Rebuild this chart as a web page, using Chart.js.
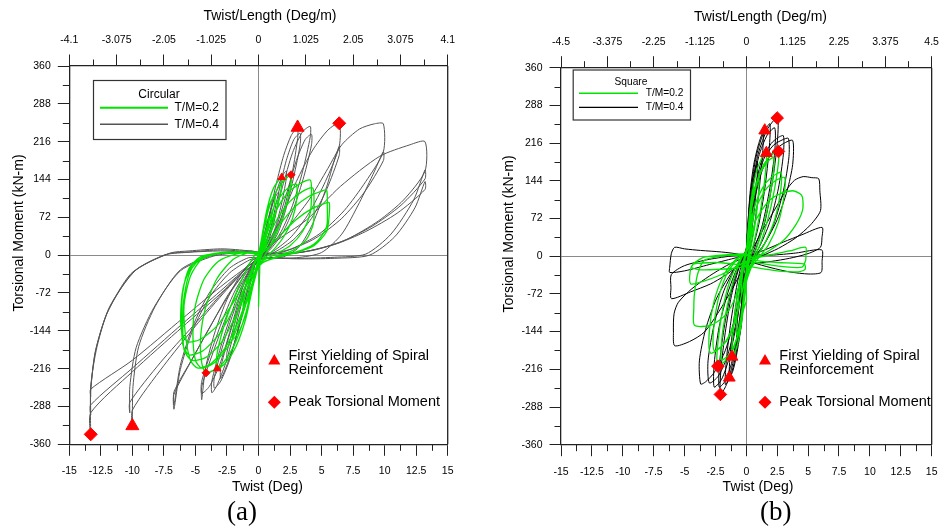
<!DOCTYPE html>
<html>
<head>
<meta charset="utf-8">
<script src="https://cdn.jsdelivr.net/npm/chart.js@4/dist/chart.umd.min.js"></script>
<style>
  body { margin: 0; background: #fff; width: 947px; height: 529px; position: relative; overflow: hidden; }
  .panel { position: absolute; top: 0; height: 500px; }
  .cap { position: absolute; top: 498px; font: 27px "Liberation Serif", "Times New Roman", serif; line-height: 1; color: #000; }
</style>
</head>
<body>
<div class="panel" style="left:0;width:470px"><canvas id="chartA"></canvas></div>
<div class="panel" style="left:480px;width:467px"><canvas id="chartB"></canvas></div>
<div class="cap" style="left:227px">(a)</div>
<div class="cap" style="left:760px">(b)</div>
<script>
/* tick labels */
const twistTicks = [-15, -12.5, -10, -7.5, -5, -2.5, 0, 2.5, 5, 7.5, 10, 12.5, 15];
const momentTicks = [-360, -288, -216, -144, -72, 0, 72, 144, 216, 288, 360];
const perLengthTicksA = [-4.1, -3.075, -2.05, -1.025, 0, 1.025, 2.05, 3.075, 4.1];
const perLengthTicksB = [-4.5, -3.375, -2.25, -1.125, 0, 1.125, 2.25, 3.375, 4.5];

/* (a) circular, T/M=0.4 : [twist, moment] */
const circ04 = [
  [0,0],[0.1,8],[0.4,35],[0.8,72],[1.15,100],[1.45,116],[1.6,120],[1.6,108],[1.3,70],[0.9,35],[0.5,12],[0.1,2],
  [-0.2,-12],[-0.6,-50],[-1.1,-100],[-1.7,-150],[-2.2,-188],[-2.5,-200],[-2.5,-185],[-2,-140],[-1.4,-90],[-0.8,-45],[-0.2,-12],[0.1,-5],
  [0.3,15],[0.7,55],[1.2,105],[1.7,140],[2,155],[2.2,160],[2.2,145],[1.8,95],[1.3,50],[0.7,15],[0.1,0],
  [-0.3,-15],[-0.8,-60],[-1.4,-120],[-2,-175],[-2.6,-215],[-3,-235],[-3,-215],[-2.4,-160],[-1.7,-105],[-1,-55],[-0.3,-18],[0.1,-8],
  [0.3,20],[0.8,70],[1.4,135],[2,190],[2.6,228],[3.1,243],[3.1,222],[2.7,160],[2.1,95],[1.4,45],[0.6,10],[0.1,0],
  [-0.3,-18],[-0.9,-70],[-1.6,-140],[-2.3,-200],[-3,-240],[-3.5,-253],[-3.5,-232],[-2.8,-170],[-2,-110],[-1.2,-58],[-0.4,-20],[0.1,-10],
  [0.4,10],[1,55],[1.6,120],[2.2,180],[2.8,220],[3.3,232],[3.3,210],[2.8,150],[2.2,90],[1.5,40],[0.6,8],[0.1,-2],
  [-0.4,-15],[-1,-60],[-1.8,-135],[-2.6,-205],[-3.3,-248],[-3.7,-262],[-3.7,-240],[-3,-175],[-2.2,-115],[-1.4,-62],[-0.5,-22],[0.1,-10],
  [0.4,12],[1.1,60],[1.9,130],[2.7,195],[3.5,235],[4.1,245],[4.1,225],[3.5,160],[2.7,95],[1.8,45],[0.8,10],[0.1,-3],
  [-0.5,-15],[-1.3,-65],[-2.2,-140],[-3.1,-210],[-3.9,-250],[-4.5,-263],[-4.5,-240],[-3.7,-180],[-2.8,-120],[-1.8,-65],[-0.7,-25],[0.1,-10],
  [0.5,5],[1.3,45],[2.2,115],[3,180],[3.7,220],[4.2,230],[4.2,210],[3.6,150],[2.8,90],[1.9,42],[0.9,10],[0.1,-4],
  [-0.5,-10],[-1.5,-40],[-2.6,-90],[-3.5,-150],[-4.2,-215],[-4.5,-275],[-4.5,-250],[-3.6,-185],[-2.6,-120],[-1.6,-65],[-0.6,-25],[0.1,-10],
  [0.5,15],[1.6,60],[3,140],[4.3,200],[5.5,238],[6.4,251],[6.4,207],[5.3,140],[4,80],[2.6,35],[1.2,8],[0.1,-5],
  [-0.7,-9],[-2.3,-34],[-3.85,-79],[-5.2,-142],[-6.2,-218],[-6.7,-293],[-6.7,-265],[-5.3,-200],[-3.8,-135],[-2.4,-75],[-1,-30],[0.1,-8],
  [0.8,-5],[2,-3],[3.2,15],[4.3,60],[5.4,130],[6,180],[6.4,207],[6.4,190],[5.4,125],[4.2,70],[2.8,30],[1.3,6],[0.1,-5],
  [-0.8,-5],[-2.3,-25],[-3.9,-72],[-5.2,-135],[-6.2,-210],[-6.7,-285],[-6.7,-260],[-5.2,-195],[-3.7,-130],[-2.2,-70],[-0.9,-28],[0.1,-8],
  [0.6,12],[2.2,50],[4,105],[5.5,165],[6.6,210],[8,240],[9.2,250],[9.9,250],[9.9,197],[8.5,140],[6.8,85],[4.8,40],[2.6,12],[0.6,2],
  [-0.5,8],[-1.5,7],[-3.6,0],[-6.2,-28],[-8.2,-98],[-9.5,-174],[-9.95,-250],[-10,-325],[-10,-295],[-7.5,-210],[-5,-135],[-2.5,-65],[-0.5,-15],[0.1,-8],
  [1,-6],[3,-5],[5,5],[6.6,40],[8,100],[9.2,160],[9.9,197],[9.9,180],[8.4,120],[6.6,70],[4.5,32],[2.2,8],[0.3,0],
  [-0.5,6],[-1.5,5],[-3.6,-2],[-6.2,-30],[-8.3,-100],[-9.7,-176],[-10.2,-250],[-10.2,-300],[-10.2,-280],[-7.8,-205],[-5.2,-135],[-2.6,-65],[-0.5,-15],[0.1,-8],
  [1.2,23],[3.8,67],[6.5,131],[9.6,188],[12,210],[13.2,216],[13.2,160],[11.5,105],[9.5,65],[7,30],[4.5,10],[2,2],[0.3,5],
  [-1.5,10],[-3,12],[-5.5,8],[-7,4],[-9.7,-28],[-11.8,-98],[-12.8,-174],[-13.3,-250],[-13.3,-341],[-13.3,-300],[-10,-222],[-6,-136],[-3,-73],[-0.5,-15],[0.1,-8],
  [0.6,-5],[3,-6],[6,-4],[8.5,2],[10.5,40],[12.3,105],[13.2,162],[13.2,145],[11.3,95],[9,55],[6.5,25],[3.5,6],[0.5,4],
  [-1.5,8],[-3,10],[-5.5,6],[-7.2,2],[-9.9,-32],[-11.9,-105],[-12.9,-180],[-13.3,-255],[-13.3,-304],[-13.3,-285],[-10,-215],[-6,-130],[-3,-68],[-0.5,-15],[0.1,-8],
  [0.6,-5],[3,-7],[6,-6],[8.8,0],[10.8,35],[12.4,90],[13.2,140],[13.2,125],[11,80],[8.5,45],[6,20],[3,4],[0.5,3],
  [-1.5,6],[-3,8],[-5.8,5],[-7.5,0],[-10.1,-35],[-12,-110],[-12.95,-185],[-13.3,-255],[-13.3,-269],[-13.3,-255],[-10,-200],[-6,-120],[-3,-60],[-0.5,-15],[0,-8]
];

/* (a) circular, T/M=0.2 */
const circ02 = [
  [0,0],[0.15,20],[0.4,48],[0.65,64],[0.8,70],[0.75,55],[0.5,30],[0.2,8],[0,-5],
  [-0.2,-25],[-0.5,-60],[-0.9,-88],[-1.2,-100],[-1.15,-85],[-0.8,-55],[-0.4,-22],[0,0],
  [0.2,25],[0.5,65],[0.9,98],[1.3,115],[1.25,95],[0.9,60],[0.5,25],[0.1,-5],
  [-0.3,-40],[-0.8,-95],[-1.4,-138],[-2,-160],[-1.95,-135],[-1.5,-95],[-0.9,-50],[-0.3,-12],[0.1,5],
  [0.3,40],[0.7,90],[1.2,128],[1.84,148],[1.75,120],[1.3,75],[0.8,35],[0.2,-5],
  [-0.4,-55],[-1,-120],[-1.8,-175],[-2.6,-205],[-3.27,-216],[-3.3,-190],[-2.8,-140],[-2,-85],[-1.1,-35],[-0.3,0],[0.2,8],
  [0.4,45],[0.9,95],[1.6,130],[2.2,146],[2.58,153],[2.5,125],[2,80],[1.3,35],[0.4,-5],
  [-0.3,-40],[-1,-110],[-2,-175],[-3,-210],[-4.16,-224],[-4.5,-205],[-4.6,-160],[-4.2,-100],[-3.3,-45],[-2,-8],[-0.8,5],[0.2,8],
  [0.5,40],[1.2,90],[2,120],[2.6,132],[3,135],[3.05,110],[2.7,70],[2,35],[1,5],[0.1,-15],
  [-0.5,-55],[-1.3,-115],[-2.3,-170],[-3.5,-205],[-4.5,-215],[-5,-200],[-5.2,-150],[-5,-95],[-4.3,-45],[-3.2,-12],[-1.8,2],[-0.5,6],[0.2,5],
  [0.6,35],[1.3,80],[2.2,115],[3.2,135],[4.1,143],[4.2,120],[4.1,80],[3.5,45],[2.5,18],[1.2,0],[0.1,-15],
  [-0.6,-60],[-1.5,-120],[-2.6,-175],[-3.8,-207],[-4.8,-215],[-5.4,-200],[-5.8,-150],[-5.9,-95],[-5.4,-40],[-4.5,-8],[-3.2,3],[-1.5,6],[0.2,5],
  [0.6,25],[1.4,65],[2.4,100],[3.4,120],[4.3,128],[4.4,100],[4.35,60],[3.8,30],[2.8,10],[1.5,-2],[0.1,-18],
  [-0.7,-55],[-1.7,-110],[-2.9,-165],[-4.2,-195],[-5.3,-200],[-5.9,-180],[-6,-130],[-5.9,-80],[-5.4,-30],[-4.4,-3],[-3,5],[-1.2,6],[0.2,4],
  [0.7,20],[1.6,55],[2.8,90],[4,112],[5,122],[5.4,124],[5.45,95],[5.4,54],[4.6,25],[3.5,10],[2,0],[0.3,-15],
  [-0.8,-50],[-1.9,-100],[-3.1,-150],[-4.4,-182],[-5.5,-190],[-6,-170],[-6.1,-120],[-6,-70],[-5.5,-25],[-4.5,-2],[-3,4],[-1.2,5],[0.2,3],
  [0.8,15],[1.8,40],[3,68],[4.2,88],[5.2,98],[5.6,100],[5.6,75],[5.4,45],[4.4,18],[3,5],[1.5,-4],[0.2,-15],
  [-0.9,-45],[-2,-90],[-3.3,-135],[-4.6,-160],[-5.6,-165],[-6.1,-145],[-6.15,-100],[-5.9,-55],[-5.2,-18],[-4,0],[-2.5,4],[-1,4],[0,0],
  [0.1,-20],[0.05,-60],[0,-98]
];

/* (b) square, T/M=0.4 */
const sq04 = [
  [0,0],[0.05,30],[0.2,70],[0.4,92],[0.5,100],[0.45,75],[0.3,40],[0.1,5],[0,-10],
  [-0.05,-35],[-0.2,-70],[-0.35,-85],[-0.4,-90],[-0.35,-65],[-0.2,-30],[-0.05,0],[0,10],
  [0.08,45],[0.25,100],[0.5,145],[0.75,170],[0.9,180],[0.85,140],[0.6,80],[0.3,25],[0.05,-15],
  [-0.1,-50],[-0.3,-105],[-0.5,-145],[-0.7,-165],[-0.8,-170],[-0.75,-130],[-0.5,-70],[-0.2,-15],[0,10],
  [0.1,50],[0.3,120],[0.6,175],[1,215],[1.36,237],[1.3,190],[1,120],[0.6,50],[0.2,0],[0,-20],
  [-0.15,-60],[-0.4,-130],[-0.8,-190],[-1.1,-220],[-1.38,-232],[-1.3,-185],[-1,-120],[-0.6,-55],[-0.2,-5],[0,15],
  [0.1,45],[0.35,120],[0.75,185],[1.3,230],[1.9,253],[1.85,205],[1.5,130],[1,60],[0.4,5],[0,-20],
  [-0.2,-60],[-0.5,-135],[-0.9,-195],[-1.3,-230],[-1.7,-245],[-1.6,-195],[-1.25,-125],[-0.8,-60],[-0.3,-5],[0,15],
  [0.15,40],[0.45,120],[0.9,190],[1.6,238],[2.1,256],[2.55,265],[2.5,215],[2.1,140],[1.5,65],[0.7,10],[0.1,-20],
  [-0.2,-60],[-0.6,-140],[-1.1,-205],[-1.6,-245],[-2.1,-264],[-2.05,-215],[-1.7,-145],[-1.2,-75],[-0.5,-15],[0,12],
  [0.2,45],[0.5,125],[1,190],[1.7,232],[2.3,245],[2.3,200],[1.9,130],[1.3,60],[0.5,5],[0,-20],
  [-0.25,-65],[-0.7,-145],[-1.2,-205],[-1.7,-238],[-2.2,-250],[-2.15,-200],[-1.75,-130],[-1.2,-65],[-0.5,-12],[0,12],
  [0.2,40],[0.6,115],[1.2,180],[2,215],[2.6,227],[3,230],[3,195],[2.6,130],[1.9,65],[1,15],[0.2,-15],
  [-0.3,-55],[-0.8,-130],[-1.4,-195],[-2,-235],[-2.6,-250],[-2.6,-205],[-2.2,-135],[-1.5,-70],[-0.7,-20],[0,10],
  [0.25,45],[0.7,120],[1.4,185],[2.2,212],[2.9,222],[3.4,225],[3.45,190],[3,125],[2.2,60],[1.2,12],[0.2,-18],
  [-0.35,-60],[-0.9,-135],[-1.6,-195],[-2.3,-230],[-3,-242],[-3.1,-200],[-2.6,-130],[-1.8,-65],[-0.8,-18],[0,10],
  [0.2,30],[0.6,100],[1.3,165],[2.2,200],[3,215],[3.75,221],[3.75,175],[3.3,125],[2.5,70],[1.5,25],[0.4,-10],
  [-0.3,-45],[-0.9,-115],[-1.7,-180],[-2.6,-222],[-3.3,-240],[-3.7,-244],[-3.8,-200],[-3.3,-140],[-2.4,-80],[-1.3,-35],[-0.3,-5],[0.1,5],
  [0.4,10],[1.2,45],[2.2,85],[3.2,125],[3.9,145],[4.6,152],[5.3,150],[5.86,148],[5.95,125],[6,87],[5.2,60],[4,35],[2.6,15],[1.2,0],[0.2,-10],
  [-0.4,-30],[-1.2,-65],[-2.2,-105],[-3.4,-145],[-4.6,-163],[-5.8,-171],[-5.9,-145],[-5.85,-110],[-5.5,-88],[-4.4,-62],[-3,-38],[-1.6,-18],[-0.4,-5],[0.2,0],
  [1.5,12],[3,27],[4.5,41],[6.13,55],[6.12,35],[6,17],[5,5],[3.5,-4],[2,-10],[0.5,-14],[0,-15],
  [-0.8,-22],[-1.8,-38],[-2.9,-53],[-4.5,-68],[-6.06,-81],[-6.1,-60],[-6.07,-35],[-5,-18],[-3,-6],[-1,1],[0,3],
  [2,2],[4,6],[6.1,12],[6.13,-10],[6.05,-31],[5.07,-34],[3.5,-30],[2,-22],[0.5,-12],[0,-6],
  [-0.5,3],[-2,8],[-3.7,11],[-5,14],[-5.8,17],[-6.07,5],[-6.2,-21],[-6.2,-31],[-5,-28],[-3,-16],[-1,-4],[0,2]
];

/* (b) square, T/M=0.2 */
const sq02 = [
  [0,0],[0.05,25],[0.2,55],[0.4,75],[0.5,80],[0.45,55],[0.3,25],[0.1,-5],[0,-20],
  [-0.05,-35],[-0.2,-55],[-0.4,-70],[-0.35,-45],[-0.2,-15],[0,5],
  [0.08,35],[0.3,85],[0.6,125],[1,150],[0.95,110],[0.7,60],[0.35,15],[0.05,-25],
  [-0.15,-60],[-0.4,-110],[-0.6,-138],[-0.8,-150],[-0.75,-110],[-0.5,-55],[-0.2,-5],[0,10],
  [0.1,40],[0.35,100],[0.8,160],[1.3,190],[1.62,197],[1.55,160],[1.2,95],[0.7,35],[0.2,-15],[0,-40],
  [-0.15,-80],[-0.4,-130],[-0.75,-172],[-1.16,-192],[-1.1,-150],[-0.85,-95],[-0.5,-40],[-0.15,0],[0,15],
  [0.15,40],[0.5,105],[1.1,160],[1.8,188],[2.6,200],[2.5,160],[2,95],[1.3,35],[0.5,-15],[0,-50],[0,-85],
  [-0.2,-100],[-0.6,-145],[-1.2,-185],[-1.8,-202],[-2.35,-209],[-2.3,-165],[-1.9,-100],[-1.3,-45],[-0.5,-5],[0,10],
  [0.15,35],[0.5,100],[1,150],[1.6,178],[2.2,188],[2.15,150],[1.7,90],[1.1,35],[0.4,-15],[0,-45],
  [-0.25,-95],[-0.7,-150],[-1.3,-185],[-2,-198],[-1.95,-150],[-1.5,-90],[-0.9,-35],[-0.3,0],[0,10],
  [0.2,35],[0.6,90],[1.3,130],[2.1,152],[2.8,160],[2.75,120],[2.3,70],[1.5,25],[0.6,-10],[0,-30],
  [-0.4,-75],[-0.9,-125],[-1.6,-162],[-2.6,-180],[-2.65,-140],[-2.3,-85],[-1.6,-35],[-0.7,-5],[0,8],
  [0.2,30],[0.7,85],[1.5,125],[2.4,145],[3.1,150],[3.05,115],[2.6,65],[1.8,22],[0.7,-12],[0,-35],
  [-0.5,-85],[-1.1,-135],[-1.9,-170],[-2.9,-185],[-3,-145],[-2.6,-85],[-1.8,-35],[-0.8,-5],[0,8],
  [0.2,20],[0.8,70],[1.8,105],[2.8,120],[3.75,125],[4.3,120],[4.54,113],[4.54,87],[4,60],[3,30],[1.8,10],[0.6,-5],[0,-10],
  [-0.4,-40],[-1,-85],[-1.8,-115],[-2.9,-132],[-4.2,-132],[-4.25,-100],[-4.2,-72],[-3.94,-34],[-3.4,-8],[-2,0],[-0.5,2],[0.2,0],
  [0.8,-3],[2,3],[3.5,10],[4.8,17],[4.82,0],[4.8,-8],[4.5,-21],[3,-20],[1.5,-15],[0,-10],
  [-0.8,-20],[-2,-35],[-3.5,-48],[-4.5,-53],[-4.55,-30],[-4.3,-15],[-3.4,-2],[-1.5,3],[0,4],
  [0.8,-8],[2.5,-12],[4.7,-15],[4.75,-25],[4.2,-30],[2.5,-28],[0.8,-22],[0,-18],
  [-1,-15],[-2.5,-12],[-4.3,-15],[-4.4,-22],[-3.5,-26],[-1.5,-24],[0,-20]
];

/* event markers */
const circ04Yield = [[3.1,243],[-10,-325]];
const circ04Peak = [[6.4,251],[-13.3,-341]];
const circ02Yield = [[1.84,148],[-3.27,-216]];
const circ02Peak = [[2.58,153],[-4.16,-224]];
const sq04Yield = [[1.49,240],[-1.38,-232]];
const sq04Peak = [[2.5,264],[-2.1,-264]];
const sq02Yield = [[1.62,197],[-1.16,-192]];
const sq02Peak = [[2.6,200],[-2.3,-210]];

const FONT = '"Liberation Sans", Arial, sans-serif';
const AXIS = '#222';
const GREEN = '#00e400';
const RED = '#ff0000';

const toXY = pts => pts.map(([x, y]) => ({ x, y }));

function curve(pts, color, width) {
  return { data: toXY(pts), showLine: true, borderColor: color, borderWidth: width,
    pointRadius: 0, tension: 0.25, fill: false };
}
function marks(pts, style, r) {
  return { data: toXY(pts), showLine: false, pointStyle: style, pointRadius: r,
    backgroundColor: RED, borderColor: RED, borderWidth: 1 };
}

function drawMarker(ctx, style, x, y, r) {
  ctx.beginPath();
  if (style === 'triangle') {
    ctx.moveTo(x, y - r);
    ctx.lineTo(x + r * 0.866, y + r / 2);
    ctx.lineTo(x - r * 0.866, y + r / 2);
  } else {
    ctx.moveTo(x - r, y); ctx.lineTo(x, y - r); ctx.lineTo(x + r, y); ctx.lineTo(x, y + r);
  }
  ctx.closePath();
  ctx.fillStyle = RED; ctx.fill();
}

const decorPlugin = {
  id: 'decor',
  afterDraw(chart, args, o) {
    const { ctx, chartArea: a, scales } = chart;
    ctx.save();
    // right frame side
    ctx.strokeStyle = AXIS; ctx.lineWidth = 1.3;
    ctx.beginPath(); ctx.moveTo(a.right, a.top); ctx.lineTo(a.right, a.bottom); ctx.stroke();

    // minor ticks half way between labelled ones
    ctx.lineWidth = 1;
    const minor = (scale, step, side) => {
      for (let v = scale.min + step / 2; v < scale.max; v += step) {
        const p = Math.round(scale.getPixelForValue(v)) + 0.5;
        ctx.beginPath();
        if (side === 'bottom') { ctx.moveTo(p, a.bottom); ctx.lineTo(p, a.bottom + 6.5); }
        if (side === 'top') { ctx.moveTo(p, a.top); ctx.lineTo(p, a.top - 6.5); }
        if (side === 'left') { ctx.moveTo(a.left, p); ctx.lineTo(a.left - 6.5, p); }
        ctx.stroke();
      }
    };
    minor(scales.x, 2.5, 'bottom');
    minor(scales.x2, o.topStep, 'top');
    minor(scales.y, 72, 'left');

    // axis titles
    ctx.fillStyle = '#000';
    ctx.textAlign = 'center'; ctx.textBaseline = 'middle';
    ctx.font = '14px ' + FONT;
    ctx.fillText('Twist (Deg)', o.xTitle[0], o.xTitle[1]);
    ctx.fillText('Twist/Length (Deg/m)', o.topTitle[0], o.topTitle[1]);
    ctx.save();
    ctx.translate(o.yTitle[0], o.yTitle[1]); ctx.rotate(-Math.PI / 2);
    ctx.fillText('Torsional Moment (kN-m)', 0, 0);
    ctx.restore();

    // series legend box
    const L = o.legend;
    ctx.fillStyle = '#fff';
    ctx.fillRect(L.x, L.y, L.w, L.h);
    ctx.strokeStyle = '#333'; ctx.lineWidth = 1.2;
    ctx.strokeRect(L.x + 0.5, L.y + 0.5, L.w, L.h);
    ctx.fillStyle = '#000';
    ctx.font = L.size + 'px ' + FONT;
    ctx.textAlign = 'center';
    ctx.fillText(L.title, L.titleX, L.titleY);
    ctx.textAlign = 'left';
    L.rows.forEach(row => {
      ctx.strokeStyle = row.color; ctx.lineWidth = row.width;
      ctx.beginPath(); ctx.moveTo(L.lineX0, row.y); ctx.lineTo(L.lineX1, row.y); ctx.stroke();
      ctx.fillText(row.label, L.textX, row.y);
    });

    // marker legend
    const M = o.markers;
    drawMarker(ctx, 'triangle', M.x, M.y1, 7);
    drawMarker(ctx, 'diamond', M.x, M.y2, 6.5);
    ctx.fillStyle = '#000';
    ctx.font = '14.5px ' + FONT;
    ctx.fillText('First Yielding of Spiral', M.textX, M.y1 - 5);
    ctx.fillText('Reinforcement', M.textX, M.y1 + 9);
    ctx.fillText('Peak Torsional Moment', M.textX, M.y2);
    ctx.restore();
  }
};

function makeChart(id, datasets, topTicks, geo, decor) {
  const tickFont = { family: FONT, size: 10.5 };
  const zeroGrid = {
    color: c => (c.tick && c.tick.value === 0 ? '#8a8a8a' : 'rgba(0,0,0,0)'),
    tickColor: AXIS, tickLength: 11.5, lineWidth: 1
  };
  return new Chart(document.getElementById(id), {
    type: 'scatter',
    data: { datasets },
    options: {
      responsive: true, maintainAspectRatio: false, animation: false, events: [],
      layout: { padding: { left: 0, right: geo.right, top: 0, bottom: 0 } },
      plugins: { legend: { display: false }, tooltip: { enabled: false }, decor },
      scales: {
        x: {
          type: 'linear', position: 'bottom', min: -15, max: 15,
          afterBuildTicks: s => { s.ticks = twistTicks.map(v => ({ value: v })); },
          afterFit: s => { s.height = geo.bottom; },
          grid: zeroGrid,
          border: { color: AXIS, width: 1.3 },
          ticks: { color: '#000', font: tickFont, padding: 9.5, maxRotation: 0, autoSkip: false, callback: v => String(v) }
        },
        x2: {
          type: 'linear', position: 'top', min: topTicks[0], max: topTicks[topTicks.length - 1],
          afterBuildTicks: s => { s.ticks = topTicks.map(v => ({ value: v })); },
          afterFit: s => { s.height = geo.top; },
          grid: { drawOnChartArea: false, tickColor: AXIS, tickLength: 11.5 },
          border: { color: AXIS, width: 1.3 },
          ticks: { color: '#000', font: tickFont, padding: 8, maxRotation: 0, autoSkip: false, callback: v => String(v) }
        },
        y: {
          type: 'linear', position: 'left', min: -360, max: 360,
          afterBuildTicks: s => { s.ticks = momentTicks.map(v => ({ value: v })); },
          afterFit: s => { s.width = geo.left; },
          grid: zeroGrid,
          border: { color: AXIS, width: 1.3 },
          ticks: { color: '#000', font: tickFont, padding: 7, autoSkip: false, callback: v => String(v) }
        }
      }
    },
    plugins: [decorPlugin]
  });
}

makeChart('chartA', [
  marks(circ04Yield, 'triangle', 7.5),
  marks(circ04Peak, 'rectRot', 6.5),
  marks(circ02Yield, 'triangle', 4.3),
  marks(circ02Peak, 'rectRot', 4),
  curve(circ02, GREEN, 1.3),
  curve(circ04, '#555555', 1)
], perLengthTicksA, { left: 69.3, right: 22.3, top: 66, bottom: 55.7 }, {
  topStep: 1.025,
  xTitle: [267.5, 487.5], topTitle: [270, 16], yTitle: [18.7, 233],
  legend: { x: 93, y: 80, w: 132.5, h: 59, size: 12, title: 'Circular', titleX: 159, titleY: 94.5,
    lineX0: 100, lineX1: 168, textX: 174.5,
    rows: [ { label: 'T/M=0.2', color: GREEN, width: 2, y: 107.7 }, { label: 'T/M=0.4', color: '#555555', width: 1.5, y: 124.3 } ] },
  markers: { x: 274.3, y1: 361, y2: 402.3, textX: 288.5 }
});

makeChart('chartB', [
  marks(sq04Yield, 'triangle', 6.8),
  marks(sq04Peak, 'rectRot', 6.3),
  marks(sq02Yield, 'triangle', 6.8),
  marks(sq02Peak, 'rectRot', 6.3),
  curve(sq02, GREEN, 1.3),
  curve(sq04, '#000000', 1)
], perLengthTicksB, { left: 81, right: 8.7, top: 67.7, bottom: 55.3 }, {
  topStep: 1.125,
  xTitle: [278, 487.5], topTitle: [280.5, 17], yTitle: [29.5, 234],
  legend: { x: 92.7, y: 69.5, w: 117.3, h: 50, size: 10.2, title: 'Square', titleX: 151, titleY: 81.7,
    lineX0: 99, lineX1: 158, textX: 165.7,
    rows: [ { label: 'T/M=0.2', color: GREEN, width: 1.5, y: 93.3 }, { label: 'T/M=0.4', color: '#000000', width: 1.2, y: 107.3 } ] },
  markers: { x: 285, y1: 361, y2: 402.3, textX: 299.3 }
});
</script>
</body>
</html>
